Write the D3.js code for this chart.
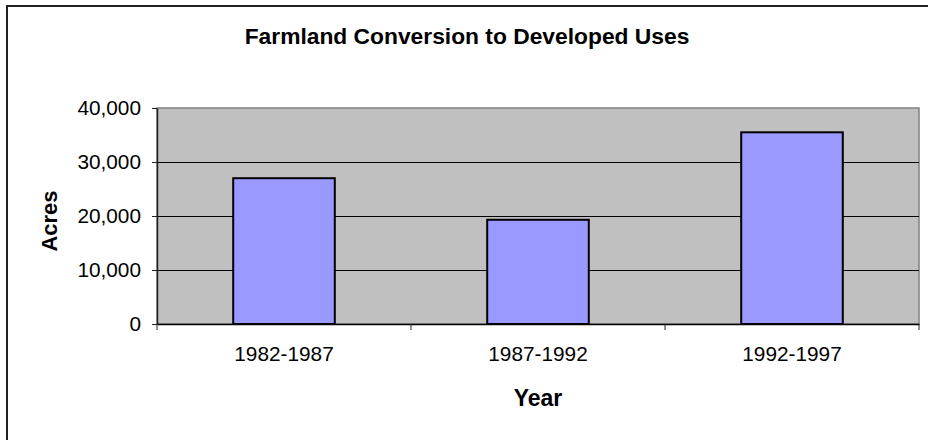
<!DOCTYPE html>
<html>
<head>
<meta charset="utf-8">
<script src="https://cdn.jsdelivr.net/npm/d3@7"></script>
<style>
  html, body { margin: 0; padding: 0; background: #fff; }
  svg { display: block; font-family: "Liberation Sans", Arial, sans-serif; }
</style>
</head>
<body>
<svg id="chart" width="928" height="440"></svg>
<script>
const categories = ["1982-1987", "1987-1992", "1992-1997"];
const acres = [27000, 19300, 35500];
const yTicks = [0, 10000, 20000, 30000, 40000];
const chartTitle = "Farmland Conversion to Developed Uses";
const xTitle = "Year";
const yTitle = "Acres";

const svg = d3.select("#chart");
const W = 928, H = 440;
const margin = { left: 157, right: W - 919, top: 108, bottom: H - 324 };

// outer frame (extends past the right and bottom edges like the reference)
svg.append("rect")
  .attr("x", 7).attr("y", 6).attr("width", 1000).attr("height", 1000)
  .attr("fill", "#fff").attr("stroke", "#222").attr("stroke-width", 2);

const x = d3.scaleBand().domain(categories)
  .range([margin.left, W - margin.right]).paddingInner(0.6).paddingOuter(0.3);
const xb = d3.scaleBand().domain(categories).range([margin.left, W - margin.right]);
const y = d3.scaleLinear().domain([0, 40000]).range([H - margin.bottom, margin.top]);

// plot area
svg.append("rect")
  .attr("x", margin.left).attr("y", margin.top)
  .attr("width", W - margin.left - margin.right)
  .attr("height", H - margin.top - margin.bottom)
  .attr("fill", "#C0C0C0").attr("stroke", "#808080").attr("stroke-width", 1.5);

// gridlines
svg.append("g").selectAll("line").data(yTicks.filter(d => d > 0 && d < 40000)).join("line")
  .attr("x1", margin.left).attr("x2", W - margin.right)
  .attr("y1", d => Math.round(y(d)) + 0.5).attr("y2", d => Math.round(y(d)) + 0.5)
  .attr("stroke", "#000").attr("stroke-width", 1);

// bars
svg.append("g").selectAll("rect").data(categories).join("rect")
  .attr("x", d => x(d)).attr("width", x.bandwidth())
  .attr("y", (d, i) => y(acres[i]))
  .attr("height", (d, i) => y(0) - y(acres[i]))
  .attr("fill", "#9999FF").attr("stroke", "#000").attr("stroke-width", 2);

// y axis
const yAxis = d3.axisLeft(y).tickValues(yTicks).tickSizeInner(5).tickSizeOuter(0).tickPadding(11)
  .tickFormat(d3.format(","));
const gy = svg.append("g").attr("transform", `translate(${margin.left},0)`).call(yAxis);
gy.select(".domain").attr("stroke", "#222").attr("stroke-width", 1.5);
gy.selectAll(".tick line").attr("stroke", "#222");
gy.selectAll("text").attr("font-size", 20.8).attr("fill", "#000");

// x axis
const xAxis = d3.axisBottom(xb).tickSize(0).tickPadding(22);
const gx = svg.append("g").attr("transform", `translate(0,${H - margin.bottom})`).call(xAxis);
gx.select(".domain").attr("stroke", "#000").attr("stroke-width", 1.5);
gx.selectAll("text").attr("font-size", 20.8).attr("fill", "#000");
// category boundary ticks
const bounds = categories.map(c => xb(c)).concat([W - margin.right]);
gx.selectAll(".bound").data(bounds).join("line").attr("class", "bound")
  .attr("x1", d => d).attr("x2", d => d).attr("y1", 0).attr("y2", 6)
  .attr("stroke", "#222").attr("stroke-width", 1);

// titles
svg.append("text").attr("x", 467).attr("y", 43.5).attr("text-anchor", "middle")
  .attr("font-size", 22.8).attr("font-weight", "bold").text(chartTitle);
svg.append("text").attr("x", 538).attr("y", 406).attr("text-anchor", "middle")
  .attr("font-size", 23).attr("font-weight", "bold").text(xTitle);
svg.append("text").attr("transform", "translate(57,221) rotate(-90)").attr("text-anchor", "middle")
  .attr("font-size", 22).attr("font-weight", "bold").text(yTitle);
</script>
</body>
</html>
